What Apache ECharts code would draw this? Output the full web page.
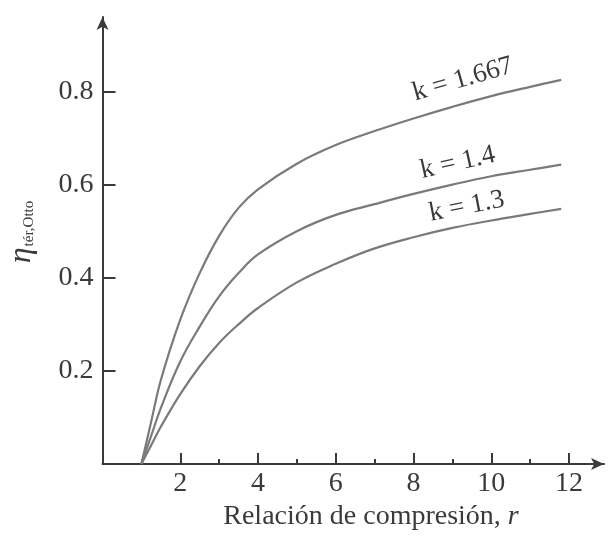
<!DOCTYPE html>
<html>
<head>
<meta charset="utf-8">
<script src="https://cdn.jsdelivr.net/npm/echarts@6/dist/echarts.min.js"></script>
<style>
  html, body { margin: 0; padding: 0; background: #fff; }
  #otto { width: 608px; height: 539px; }
</style>
</head>
<body>
<div id="otto"></div>
<script>
  // compression ratio r
  var ratios = [1, 1.25, 1.5, 2, 2.5, 3, 3.5, 4, 5, 6, 7, 8, 9, 10, 11, 11.8]
  // efficiency, one list per k
  var eta1667 = [0, 0.09, 0.18, 0.31, 0.41, 0.49, 0.55, 0.59, 0.645, 0.685, 0.715, 0.742, 0.767, 0.79, 0.81, 0.825]
  var eta14 = [0, 0.06, 0.12, 0.22, 0.295, 0.36, 0.41, 0.45, 0.50, 0.535, 0.558, 0.58, 0.60, 0.618, 0.632, 0.643]
  var eta13 = [0, 0.04, 0.08, 0.15, 0.21, 0.26, 0.30, 0.335, 0.39, 0.43, 0.463, 0.487, 0.507, 0.523, 0.537, 0.548]
  var kNames = ['k = 1.667', 'k = 1.4', 'k = 1.3']
  // where each k label sits (data coords) and its tilt
  var kLabelAt = [[9.27, 0.826], [9.14, 0.647], [9.37, 0.553]]
  var kLabelTilt = [16, 12.5, 11]
  var xMajor = [2, 4, 6, 8, 10, 12]
  var xMinor = [1, 3, 5, 7, 9, 11]
  var yTicks = [0.2, 0.4, 0.6, 0.8]

  var serif = '"Liberation Serif", "DejaVu Serif", serif'
  var ink = '#3a3a3a'
  var curve = '#7a7a7a'

  function pairs(vals) {
    return ratios.map(function (r, i) { return [r, vals[i]] })
  }

  function curveSeries(idx, vals) {
    return {
      name: kNames[idx],
      type: 'line',
      smooth: 0.4,
      showSymbol: false,
      lineStyle: { color: curve, width: 2.2 },
      data: pairs(vals),
      markPoint: {
        symbol: 'circle',
        symbolSize: 0,
        data: [{ coord: kLabelAt[idx] }],
        label: {
          show: true,
          formatter: kNames[idx],
          position: 'inside',
          rotate: kLabelTilt[idx],
          color: ink,
          fontFamily: serif,
          fontSize: 27
        }
      }
    }
  }

  var chart = echarts.init(document.getElementById('otto'))
  chart.setOption({
    animation: false,
    grid: { left: 102.5, right: 4, top: 17, bottom: 75 },
    xAxis: [
      {
        type: 'value',
        min: 0,
        max: 12.9,
        interval: 1,
        position: 'bottom',
        splitLine: { show: false },
        axisLine: {
          show: true,
          lineStyle: { color: ink, width: 2 },
          symbol: ['none', 'arrow'],
          symbolSize: [9, 13]
        },
        axisTick: { show: true, inside: true, length: 11, customValues: xMajor, lineStyle: { color: ink, width: 2 } },
        axisLabel: { customValues: xMajor, margin: 6, color: ink, fontFamily: serif, fontSize: 28 }
      },
      {
        type: 'value',
        min: 0,
        max: 12.9,
        interval: 1,
        position: 'bottom',
        splitLine: { show: false },
        axisLine: { show: false },
        axisTick: { show: true, inside: true, length: 5, customValues: xMinor, lineStyle: { color: ink, width: 2 } },
        axisLabel: { show: false }
      }
    ],
    yAxis: {
      type: 'value',
      min: 0,
      max: 0.96,
      interval: 0.2,
      splitLine: { show: false },
      axisLine: {
        show: true,
        lineStyle: { color: ink, width: 2 },
        symbol: ['none', 'arrow'],
        symbolSize: [9, 13]
      },
      axisTick: { show: true, inside: true, length: 13, customValues: yTicks, lineStyle: { color: ink, width: 2 } },
      axisLabel: {
        customValues: yTicks,
        margin: 9,
        color: ink,
        fontFamily: serif,
        fontSize: 28,
        formatter: function (v) { return v.toFixed(1) }
      }
    },
    series: [
      curveSeries(0, eta1667),
      curveSeries(1, eta14),
      curveSeries(2, eta13)
    ],
    graphic: [
      {
        type: 'text',
        x: 371,
        y: 517,
        style: {
          text: '{n|Relación de compresión, }{r|r}',
          align: 'center',
          verticalAlign: 'middle',
          fill: ink,
          rich: {
            n: { fontFamily: serif, fontSize: 28, fill: ink },
            r: { fontFamily: serif, fontSize: 28, fontStyle: 'italic', fill: ink }
          }
        }
      },
      {
        type: 'text',
        x: 22,
        y: 232,
        rotation: Math.PI / 2,
        style: {
          text: '{e|η}{s|tér,Otto}',
          align: 'center',
          verticalAlign: 'middle',
          fill: ink,
          rich: {
            e: { fontFamily: serif, fontSize: 32, fontStyle: 'italic', fill: ink },
            s: { fontFamily: serif, fontSize: 15, fill: ink, padding: [14, 0, 0, 1] }
          }
        }
      }
    ]
  })
</script>
</body>
</html>
